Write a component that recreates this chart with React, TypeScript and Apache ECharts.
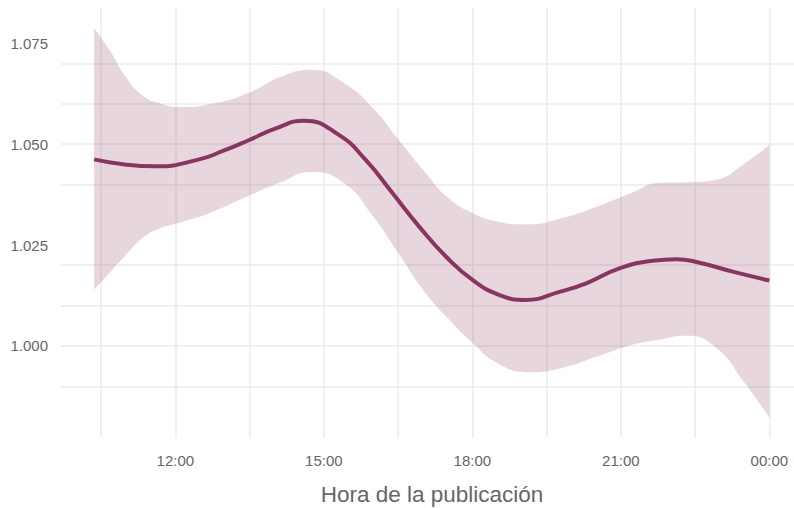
import React, { useEffect, useRef } from "react";
import * as echarts from "echarts";

// Smoothed fit: hours of publication (decimal hours; 24 = 00:00) and values
const fitHours = [10.36, 10.94, 11.6, 12.48, 12.96, 13.49, 14.03, 14.6, 15.31, 15.85, 16.39, 16.93, 17.47, 18.01, 18.55, 19.08, 19.76, 20.3, 20.97, 21.64, 22.12, 22.59, 23.26, 24.0];
const fit = [1.0462, 1.0450, 1.0445, 1.0462, 1.0483, 1.0510, 1.0539, 1.0558, 1.0522, 1.0460, 1.0378, 1.0295, 1.0221, 1.0163, 1.0126, 1.0114, 1.0134, 1.0155, 1.0192, 1.0211, 1.0215, 1.0206, 1.0184, 1.0162];

// Confidence band
const bandHours = [10.36, 10.67, 11.0, 11.33, 11.68, 12.1, 12.75, 13.5, 14.1, 14.75, 15.4, 16.0, 16.5, 17.0, 17.5, 18.0, 18.5, 19.1, 19.8, 20.5, 21.2, 21.8, 22.3, 22.9, 23.5, 24.0];
const upper = [1.0787, 1.0733, 1.0666, 1.0621, 1.0601, 1.0592, 1.0600, 1.0628, 1.0665, 1.0684, 1.0652, 1.0588, 1.0512, 1.0437, 1.0368, 1.0329, 1.0308, 1.0301, 1.0316, 1.0344, 1.0378, 1.0404, 1.0405, 1.0411, 1.0452, 1.0498];
const lower = [1.0139, 1.0181, 1.0225, 1.0267, 1.0291, 1.0306, 1.0332, 1.0373, 1.0404, 1.0431, 1.0404, 1.0320, 1.0231, 1.0140, 1.0069, 1.0008, 0.9958, 0.9935, 0.9945, 0.9973, 1.0002, 1.0016, 1.0025, 0.9998, 0.9909, 0.9822];

// Ticks
const xTicks = [12, 15, 18, 21, 24];
const xTickLabels = ["12:00", "15:00", "18:00", "21:00", "00:00"];
const xGrid = [10.5, 12, 13.5, 15, 16.5, 18, 19.5, 21, 22.5, 24];
const yTicks = [1.0, 1.025, 1.05, 1.075];
const yTickLabels = ["1.000", "1.025", "1.050", "1.075"];
const yGrid = [0.9875, 1.0, 1.0125, 1.025, 1.0375, 1.05, 1.0625, 1.075];

const LINE = "#8B3461";
const GRID = "#EBEBEB";
const TEXT = "#666666";
const FONT = "'Liberation Sans', Arial, sans-serif";

export default function App() {
  const ref = useRef<HTMLDivElement>(null);
  useEffect(() => {
    if (!ref.current) return;
    const chart = echarts.init(ref.current, null, { renderer: "svg" });
    // rows are [value, hour] so that stacking happens on the value (y) dimension
    const lowerData = bandHours.map((h, i) => [lower[i], h]);
    const diffData = bandHours.map((h, i) => [upper[i] - lower[i], h]);
    const fitData = fitHours.map((h, i) => [fit[i], h]);
    const gridLines = [
      ...xGrid.map((v) => ({ xAxis: v })),
      ...yGrid.map((v) => ({ yAxis: v })),
    ];
    chart.setOption({
      animation: false,
      grid: {
        left: 61,
        top: 8,
        width: 742,
        height: 430,
        containLabel: false,
        outerBoundsMode: "none",
      },
      xAxis: {
        type: "value",
        min: 9.69,
        max: 24.68,
        axisLine: { show: false },
        axisTick: { show: false },
        splitLine: { show: false },
        axisLabel: {
          customValues: xTicks,
          formatter: (v: number) => {
            const i = xTicks.findIndex((t) => Math.abs(t - v) < 1e-6);
            return i >= 0 ? xTickLabels[i] : "";
          },
          color: TEXT,
          fontSize: 15,
          fontFamily: FONT,
          margin: 15,
        },
        name: "Hora de la publicación",
        nameLocation: "middle",
        nameGap: 45,
        nameTextStyle: { color: TEXT, fontSize: 22.5, fontFamily: FONT },
      },
      yAxis: {
        type: "value",
        min: 0.9772,
        max: 1.0837,
        axisLine: { show: false },
        axisTick: { show: false },
        splitLine: { show: false },
        axisLabel: {
          customValues: yTicks,
          formatter: (v: number) => {
            const i = yTicks.findIndex((t) => Math.abs(t - v) < 1e-6);
            return i >= 0 ? yTickLabels[i] : "";
          },
          color: TEXT,
          fontSize: 15,
          fontFamily: FONT,
          margin: 13,
        },
      },
      series: [
        {
          type: "line",
          data: lowerData,
          encode: { x: 1, y: 0 },
          stack: "ci",
          smooth: 0.5,
          showSymbol: false,
          lineStyle: { width: 0, opacity: 0 },
          silent: true,
          z: 2,
          markLine: {
            silent: true,
            symbol: "none",
            label: { show: false },
            lineStyle: { color: GRID, width: 1.5, type: "solid" },
            z: 1,
            data: gridLines,
          },
        },
        {
          type: "line",
          data: diffData,
          encode: { x: 1, y: 0 },
          stack: "ci",
          smooth: 0.5,
          showSymbol: false,
          lineStyle: { width: 0, opacity: 0 },
          areaStyle: { color: LINE, opacity: 0.2 },
          silent: true,
          z: 3,
        },
        {
          type: "line",
          data: fitData,
          encode: { x: 1, y: 0 },
          smooth: 0.5,
          showSymbol: false,
          lineStyle: { width: 4, color: LINE },
          itemStyle: { color: LINE },
          silent: true,
          z: 4,
        },
      ],
    });
    return () => chart.dispose();
  }, []);
  return (
    <div style={{ position: "fixed", left: 0, top: 0, width: 794, height: 508, overflow: "hidden", background: "#ffffff" }}>
      <div ref={ref} style={{ width: 830, height: 508 }} />
    </div>
  );
}
